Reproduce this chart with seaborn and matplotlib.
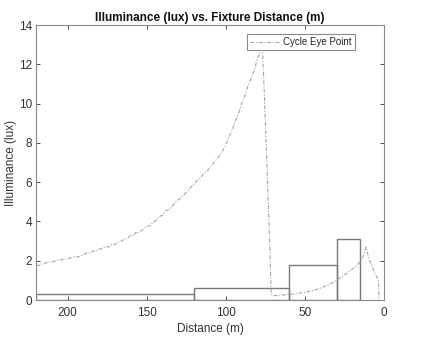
import numpy as np
import pandas as pd
import matplotlib
matplotlib.use("Agg")
import matplotlib.pyplot as plt
import seaborn as sns

# cycle eye point illuminance profile (distance in m, lux)
distance = [220, 218, 216, 214, 212, 210, 208, 206, 204, 202, 200, 198, 196,
            194, 192, 190, 188, 186, 184, 182, 180, 178, 176, 174, 172, 170,
            168, 166, 164, 162, 160, 158, 157, 156, 154, 152, 150, 148, 146,
            144, 142, 140, 138, 136, 134, 132, 130, 128, 126, 124, 122, 120,
            118, 116, 114, 112, 110, 108, 106, 104, 102, 100, 98, 96, 94, 92,
            90, 88, 86, 84, 82, 80, 78, 77, 76, 75, 74, 73, 72, 71.3, 70, 66,
            62, 58, 54, 50, 46, 42, 38, 34, 30, 26, 22, 18, 15, 13, 11.5,
            10.5, 9, 7.5, 6, 5, 4, 3.5, 3.2]
lux = [1.78, 1.76, 1.85, 1.88, 1.95, 1.93, 1.98, 2.04, 2.05, 2.1, 2.1, 2.15,
       2.2, 2.18, 2.25, 2.3, 2.4, 2.38, 2.5, 2.48, 2.6, 2.62, 2.72, 2.7, 2.85,
       2.82, 2.95, 3.0, 3.1, 3.15, 3.3, 3.28, 3.45, 3.38, 3.5, 3.62, 3.75,
       3.78, 3.95, 4.05, 4.25, 4.32, 4.55, 4.6, 4.75, 4.98, 5.1, 5.22, 5.4,
       5.55, 5.75, 5.9, 6.1, 6.2, 6.45, 6.55, 6.75, 6.95, 7.15, 7.35, 7.6,
       7.9, 8.3, 8.65, 9.1, 9.5, 10.0, 10.4, 10.9, 11.3, 11.7, 12.3, 12.7,
       13.0, 11.2, 9.0, 6.8, 4.6, 2.2, 0.3, 0.22, 0.24, 0.27, 0.3, 0.34, 0.4,
       0.46, 0.55, 0.68, 0.82, 1.0, 1.22, 1.45, 1.7, 1.95, 2.25, 2.7, 2.4,
       2.0, 1.7, 1.4, 1.25, 1.1, 0.9, 0.0]

# fixture zones: start distance, width, illuminance
zone_start = [120, 60, 30, 15]
zone_width = [100, 60, 30, 15]
zone_lux = [0.3, 0.6, 1.8, 3.1]

sns.set_theme(style="white")
plt.rcParams["font.family"] = ["Liberation Sans", "DejaVu Sans"]

fig = plt.figure(figsize=(4.22, 3.39), dpi=100)
ax = fig.add_axes([0.0853, 0.115, 0.8247, 0.811])

ax.bar(zone_start, zone_lux, width=zone_width, align="edge", fill=False,
       edgecolor="#7a7a7a", linewidth=1.0)

df = pd.DataFrame({"Distance": distance, "Illuminance": lux})
sns.lineplot(data=df, x="Distance", y="Illuminance", ax=ax, sort=False,
             color="#a5a5a5", linewidth=0.8, dashes=False,
             label="Cycle Eye Point")
ax.lines[0].set_dashes([3.5, 1.5, 1, 1.5])

ax.set_xlim(220, 0)
ax.set_ylim(0, 14)
ax.set_xticks([200, 150, 100, 50, 0])
ax.set_yticks(np.arange(0, 15, 2))
ax.set_xlabel("Distance (m)", fontsize=8.5, color="#333333", labelpad=3)
ax.set_ylabel("Illuminance (lux)", fontsize=8.5, color="#333333", labelpad=1)
ax.set_title("Illuminance (lux) vs. Fixture Distance (m)", fontsize=8.5,
             fontweight="bold", color="#111111", pad=3)
ax.tick_params(direction="in", length=3, labelsize=8.5, colors="#333333",
               top=True, right=True, bottom=True, left=True, width=0.6)
ax.tick_params(axis="x", pad=5)
ax.tick_params(axis="y", pad=3)
for s in ax.spines.values():
    s.set_color("#8a8a8a")
    s.set_linewidth(0.8)

leg = ax.legend(loc="upper right", bbox_to_anchor=(0.93, 0.985), fontsize=7,
                fancybox=False, framealpha=1, edgecolor="#8a8a8a",
                handlelength=3, borderpad=0.3, handletextpad=0.4)
leg.get_frame().set_linewidth(0.8)
leg.get_lines()[0].set_dashes([3.5, 1.5, 1, 1.5])

fig.savefig("out.png", dpi=100)
